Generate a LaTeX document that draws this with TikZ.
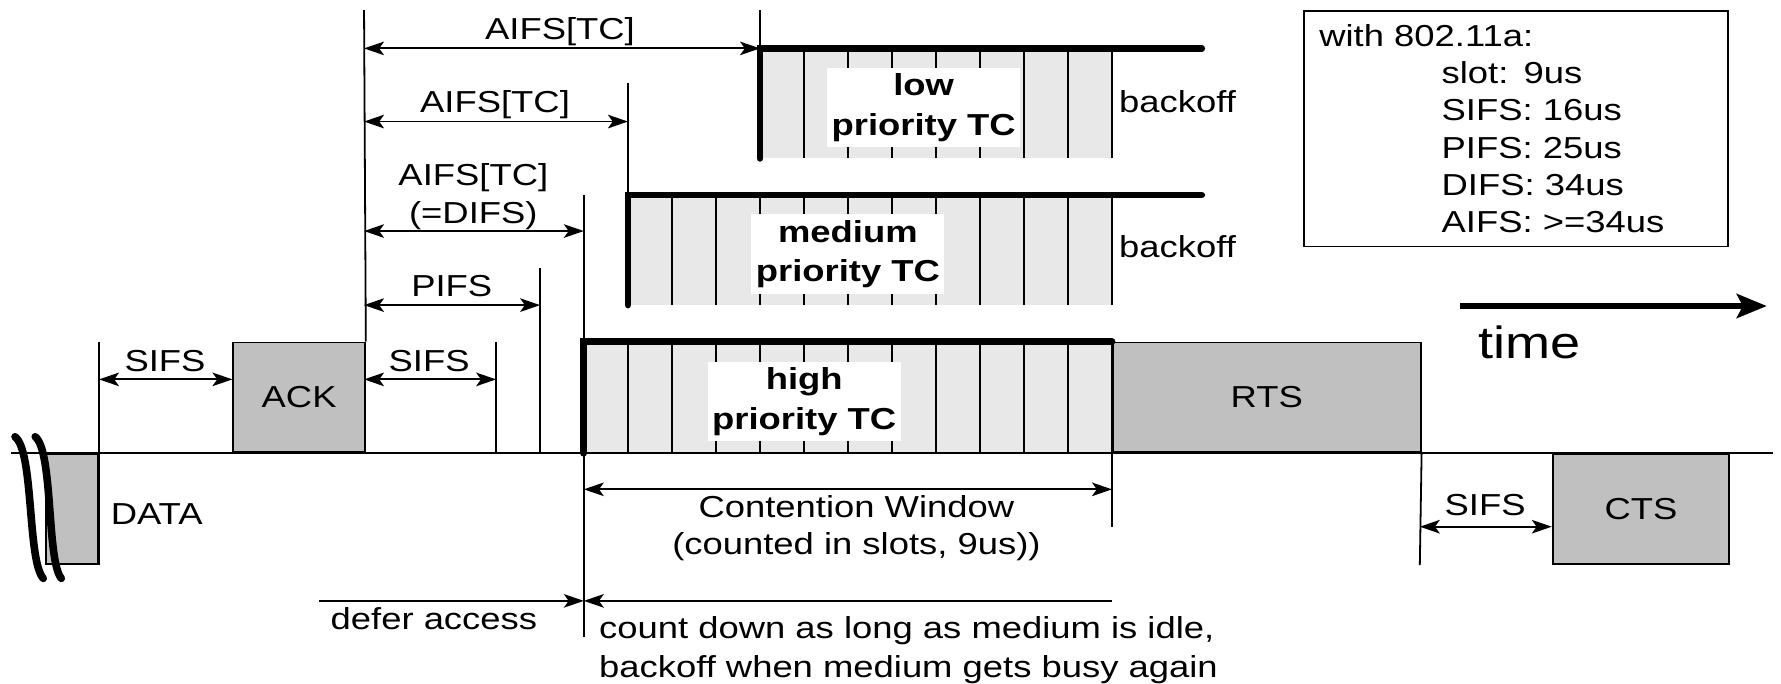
\documentclass[tikz,border=0pt]{standalone}
\usepackage{fontspec}
\setmainfont{Liberation Sans}[FakeStretch=1.2]
\usetikzlibrary{arrows.meta}

\definecolor{pktgray}{RGB}{192,192,192}
\definecolor{slotgray}{RGB}{232,232,232}

\tikzset{
  pktbox/.style={draw, fill=pktgray, line width=0.45pt, inner sep=0pt},
  slotline/.style={line width=0.45pt},
  dimline/.style={line width=0.45pt},
  thickedge/.style={line width=1.7pt, line cap=round},
  brk/.style={line width=1.9pt, line cap=round},
  lbl/.style={inner sep=0pt, text height=5.5pt, text depth=0pt},
  tclabel/.style={fill=white, inner sep=0pt, minimum width=1.70cm, minimum height=0.70cm,
    align=center, font=\bfseries\fontsize{7.6}{9.9}\selectfont},
  infobox/.style={draw, line width=0.45pt, inner xsep=0.132cm, inner ysep=0pt,
    minimum width=3.733cm, minimum height=2.073cm, text width=3.469cm, align=left,
    font=\fontsize{7.6}{9.36}\selectfont},
  timearrow/.style={line width=1.7pt, -{Stealth[length=7.5pt,width=6pt,inset=1.5pt]}}
}

\begin{document}
\begin{tikzpicture}[font=\fontsize{7.6}{9.4}\selectfont,
    >={Stealth[length=5pt,width=3.4pt,inset=1.2pt]}]
  \useasboundingbox (0,-2.03) rectangle (15.68,3.99);

  % time instants on the medium line
  \coordinate (tstart)  at (0.10,0);
  \coordinate (tdata)   at (0.872,0);
  \coordinate (tdefer)  at (2.81,0);
  \coordinate (tackend) at (3.205,0);
  \coordinate (tsifs)   at (4.368,0);
  \coordinate (tpifs)   at (4.755,0);
  \coordinate (tdifs)   at (5.14,0);
  \coordinate (tmed)    at (5.528,0);
  \coordinate (tlow)    at (6.691,0);
  \coordinate (trts)    at (9.79,0);
  \coordinate (trtsend) at (12.50,0);
  \coordinate (tstop)   at (15.61,0);
  % heights of the arrows
  \coordinate (ytop)    at (0,3.902);
  \coordinate (ylow)    at (0,3.564);
  \coordinate (ymedln)  at (0,3.256);
  \coordinate (ymed)    at (0,2.92);
  \coordinate (ymedtop) at (0,2.273);
  \coordinate (ydifs)   at (0,1.956);
  \coordinate (ypifsln) at (0,1.63);
  \coordinate (ypifs)   at (0,1.304);
  \coordinate (ysifs)   at (0,0.65);
  \coordinate (ycw)     at (0,-0.318);
  \coordinate (ycts)    at (0,-0.647);
  \coordinate (ydefer)  at (0,-1.30);
  \coordinate (yfoot)   at (0,-1.615);

  % frames on the medium
  \node[pktbox, anchor=north east, minimum width=0.46cm, minimum height=0.97cm] (data) at (tdata) {};
  \node[pktbox, anchor=south west, minimum width=1.159cm, minimum height=0.967cm] (ack) at (2.046,0) {ACK};
  \node[pktbox, anchor=north west, minimum width=1.555cm, minimum height=0.97cm] (cts) at (13.662,0) {CTS};
  \node[lbl, anchor=west] (datalabel) at (0.969,-0.53) {DATA};

  % high priority TC, 12 slots
  \fill[slotgray] (5.14,0) rectangle (9.79,0.967);
  \foreach \k in {1,...,11} \draw[slotline] (5.14+0.3876*\k,0) -- ++(0,0.967);
  % medium priority TC, 11 slots
  \fill[slotgray] (5.528,1.305) rectangle (9.79,2.273);
  \foreach \k in {2,...,12} \draw[slotline] (5.14+0.3876*\k,1.305) -- ++(0,0.968);
  % low priority TC, 8 slots
  \fill[slotgray] (6.691,2.596) rectangle (9.79,3.564);
  \foreach \k in {5,...,12} \draw[slotline] (5.14+0.3876*\k,2.596) -- ++(0,0.968);

  \node[pktbox, anchor=south west, minimum width=2.71cm, minimum height=0.967cm] (rts) at (trts) {RTS};

  \node[tclabel] (lowtc) at (8.132,3.043) {low\\priority TC};
  \node[tclabel] (medtc) at (7.465,1.752) {medium\\priority TC};
  \node[tclabel] (hightc) at (7.08,0.454) {high\\priority TC};

  \draw[slotline] (tstart) -- (tstop);
  \draw[slotline] (tdata |- ack.north) -- (data.south east);
  \draw[slotline] (ack.north east) -- (tackend |- ytop);
  \draw[slotline] (tsifs) -- (tsifs |- ack.north);
  \draw[slotline] (tpifs) -- (tpifs |- ypifsln);
  \draw[slotline] (tdifs |- ymedtop) -- (tdifs |- yfoot);
  \draw[slotline] (tmed |- ymedln) -- (tmed |- ymedtop);
  \draw[slotline] (tlow |- ytop) -- (tlow |- ylow);
  \draw[slotline] (rts.north west) -- (trts |- ycts);
  \draw[slotline] (rts.south east) -- (trtsend |- cts.south);

  % start of each backoff
  \draw[thickedge] (tdifs) -- (tdifs |- ack.north) -- (trts |- ack.north);
  \draw[thickedge] (5.528,1.305) -- (5.528,2.273) -- (10.58,2.273);
  \draw[thickedge] (6.691,2.596) -- (6.691,3.564) -- (10.58,3.564);

  \node[lbl, anchor=west] (lowbackoff) at (9.846,3.095) {backoff};
  \node[lbl, anchor=west] (medbackoff) at (9.846,1.818) {backoff};

  % interframe spaces
  \draw[<->, dimline] (tdata |- ysifs) -- (ack.west |- ysifs);
  \node[lbl] (sifsa) at (1.453,0.82) {SIFS};
  \draw[<->, dimline] (tackend |- ysifs) -- (tsifs |- ysifs);
  \node[lbl] (sifsb) at (3.778,0.82) {SIFS};
  \draw[<->, dimline] (tackend |- ypifs) -- (tpifs |- ypifs);
  \node[lbl] (pifs) at (3.977,1.48) {PIFS};
  \draw[<->, dimline] (tackend |- ydifs) -- (tdifs |- ydifs);
  \node[align=center, inner sep=0pt] (difs) at (4.167,2.26) {AIFS[TC]\\(=DIFS)};
  \draw[<->, dimline] (tackend |- ymed) -- (tmed |- ymed);
  \node[lbl] (aifsmed) at (4.358,3.095) {AIFS[TC]};
  \draw[<->, dimline] (tackend |- ylow) -- (tlow |- ylow);
  \node[lbl] (aifslow) at (4.93,3.74) {AIFS[TC]};

  \draw[<->, dimline] (tdifs |- ycw) -- (trts |- ycw);
  \node[align=center, inner sep=0pt] (cwlabel) at (7.54,-0.66) {Contention Window\\(counted in slots, 9us))};
  \draw[<->, dimline] (trtsend |- ycts) -- (cts.west |- ycts);
  \node[lbl] (sifsc) at (13.075,-0.456) {SIFS};

  \draw[->, dimline] (tdefer |- ydefer) -- (tdifs |- ydefer);
  \node[lbl] (defer) at (3.82,-1.456) {defer access};
  \draw[<-, dimline] (tdifs |- ydefer) -- (trts |- ydefer);
  \node[align=left, anchor=west, inner sep=0pt, font=\fontsize{7.6}{10}\selectfont] (countdown)
    at (5.268,-1.734) {count down as long as medium is idle,\\backoff when medium gets busy again};

  % break in the DATA frame
  \draw[brk] (0.132,0.145) .. controls (0.30,0.02) and (0.24,-0.95) .. (0.381,-1.102);
  \draw[brk] (0.31,0.145) .. controls (0.47,0.02) and (0.41,-0.95) .. (0.54,-1.102);

  \node[infobox] (info) at (13.35,2.857) {with 802.11a:\\
    \hspace*{1.077cm}slot: 9us\\
    \hspace*{1.077cm}SIFS: 16us\\
    \hspace*{1.077cm}PIFS: 25us\\
    \hspace*{1.077cm}DIFS: 34us\\
    \hspace*{1.077cm}AIFS: >=34us};

  \coordinate (timefrom) at (12.855,1.296);
  \coordinate (timeto) at (15.555,1.296);
  \draw[timearrow] (timefrom) -- (timeto);
  \node[anchor=base west, inner sep=0pt, font=\fontsize{11.3}{13}\selectfont] (timelabel) at (13.01,0.835) {time};
\end{tikzpicture}
\end{document}
